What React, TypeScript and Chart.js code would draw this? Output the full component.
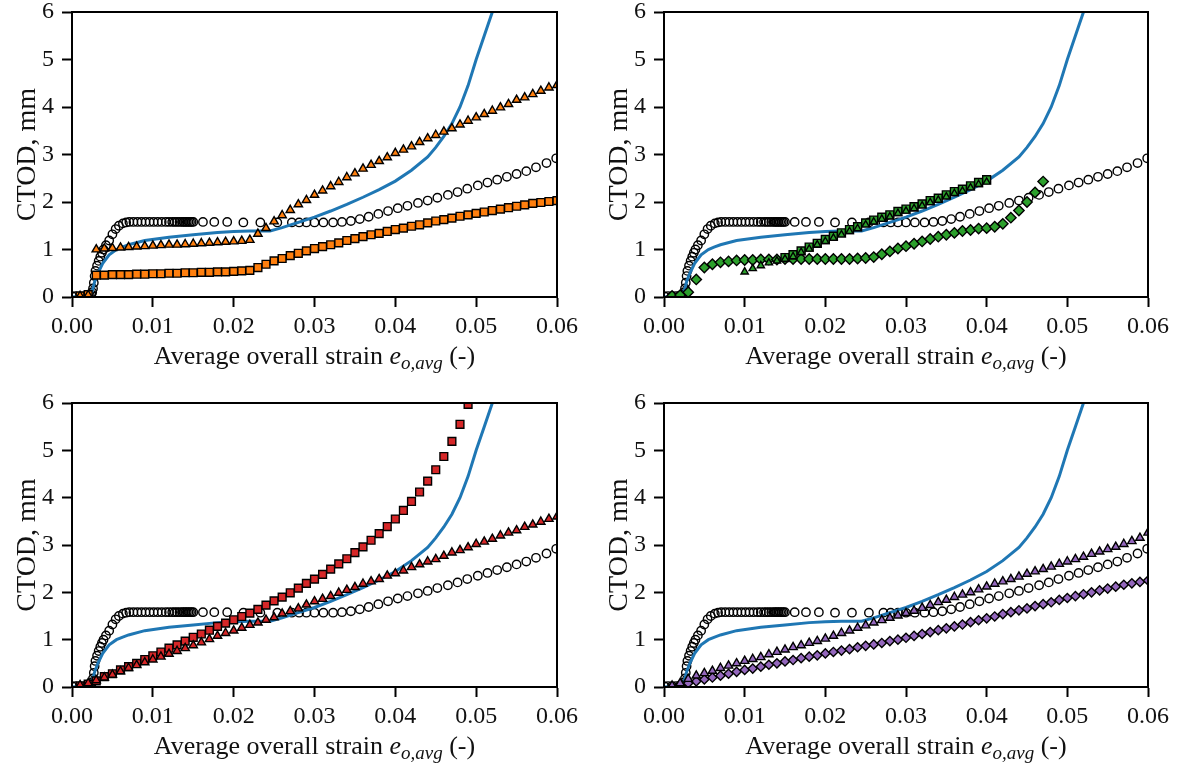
import React, { useEffect, useRef } from 'react';
import { Chart, registerables } from 'chart.js';

Chart.register(...registerables);

const SERIF = "'Liberation Serif', 'DejaVu Serif', serif";

// ---------- axis ticks ----------
const xTickValues = [0.0, 0.01, 0.02, 0.03, 0.04, 0.05, 0.06];
const yTickValues = [0, 1, 2, 3, 4, 5, 6];

// ---------- shared: experiment (open circles) ----------
const expStrain = [
  0, 0.0005, 0.001, 0.0015, 0.002, 0.0022, 0.0024, 0.0025, 0.0026, 0.0027, 0.0028, 0.0029,
  0.0031, 0.0033, 0.0035, 0.0037, 0.0039, 0.0042, 0.0046, 0.005, 0.0054, 0.0058, 0.0063,
  0.0067, 0.0071, 0.0076, 0.0081, 0.0086, 0.0091, 0.0096, 0.0101, 0.0106, 0.0111, 0.0116,
  0.012, 0.0124, 0.0127, 0.013, 0.0133, 0.0136, 0.0138, 0.014, 0.0142, 0.0144, 0.0146,
  0.0148, 0.015, 0.0162, 0.0176, 0.0192, 0.0212, 0.0233, 0.0254, 0.0272, 0.0281, 0.029,
  0.03, 0.0311, 0.0323, 0.0334, 0.0345, 0.0356, 0.0367, 0.0379, 0.0391, 0.0403, 0.0415,
  0.0428, 0.044, 0.0452, 0.0465, 0.0477, 0.0489, 0.0502, 0.0514, 0.0526, 0.0538, 0.055,
  0.0562, 0.0574, 0.0587, 0.0599,
];
const expCTOD = [
  0.02, 0.02, 0.02, 0.02, 0.03, 0.04, 0.06, 0.1, 0.18, 0.3, 0.44, 0.55,
  0.66, 0.76, 0.85, 0.93, 1.0, 1.09, 1.19, 1.32, 1.43, 1.5, 1.55,
  1.57, 1.58, 1.58, 1.58, 1.58, 1.58, 1.58, 1.58, 1.58, 1.58, 1.58,
  1.58, 1.58, 1.58, 1.58, 1.58, 1.58, 1.58, 1.58, 1.58, 1.58, 1.58,
  1.58, 1.58, 1.58, 1.58, 1.58, 1.57, 1.57, 1.57, 1.57, 1.57, 1.57,
  1.57, 1.57, 1.57, 1.58, 1.6, 1.64, 1.69, 1.75, 1.81, 1.87, 1.92,
  1.98, 2.03, 2.09, 2.15, 2.21, 2.28, 2.35, 2.41, 2.47, 2.53, 2.59,
  2.65, 2.73, 2.82, 2.92,
];

// ---------- shared: simulation (blue line) ----------
const simStrain = [
  0, 0.001, 0.002, 0.0025, 0.0028, 0.0032, 0.0038, 0.0046, 0.0055, 0.0062, 0.007, 0.009,
  0.012, 0.015, 0.018, 0.02, 0.022, 0.0245, 0.026, 0.028, 0.03, 0.032, 0.034, 0.036, 0.038,
  0.04, 0.042, 0.044, 0.045, 0.046, 0.047, 0.048, 0.049, 0.05, 0.051, 0.052, 0.0525,
];
const simCTOD = [
  0, 0.01, 0.03, 0.12, 0.32, 0.5, 0.71, 0.89, 1.0, 1.05, 1.1, 1.19,
  1.26, 1.31, 1.36, 1.38, 1.39, 1.39, 1.46, 1.57, 1.68, 1.81, 1.95, 2.1, 2.26,
  2.44, 2.67, 2.95, 3.15, 3.38, 3.65, 4.0, 4.45, 5.0, 5.5, 6.0, 6.3,
];

// ---------- model strain grid (0.001 ... 0.060) ----------
const gridStrain = [
  0.001, 0.002, 0.003, 0.004, 0.005, 0.006, 0.007, 0.008, 0.009, 0.01,
  0.011, 0.012, 0.013, 0.014, 0.015, 0.016, 0.017, 0.018, 0.019, 0.02,
  0.021, 0.022, 0.023, 0.024, 0.025, 0.026, 0.027, 0.028, 0.029, 0.03,
  0.031, 0.032, 0.033, 0.034, 0.035, 0.036, 0.037, 0.038, 0.039, 0.04,
  0.041, 0.042, 0.043, 0.044, 0.045, 0.046, 0.047, 0.048, 0.049, 0.05,
  0.051, 0.052, 0.053, 0.054, 0.055, 0.056, 0.057, 0.058, 0.059, 0.06,
];

// panel (a) orange
const orangeTriCTOD = [
  0.02, 0.04, 1.0, 1.02, 1.03, 1.04, 1.05, 1.06, 1.07, 1.08,
  1.09, 1.1, 1.1, 1.11, 1.12, 1.13, 1.14, 1.15, 1.16, 1.17,
  1.18, 1.2, 1.33, 1.45, 1.59, 1.72, 1.83, 1.95, 2.04, 2.15,
  2.24, 2.33, 2.42, 2.52, 2.6, 2.7, 2.78, 2.86, 2.94, 3.03,
  3.1, 3.17, 3.26, 3.34, 3.41, 3.48, 3.55, 3.63, 3.71, 3.78,
  3.85, 3.92, 3.99, 4.06, 4.15, 4.2, 4.27, 4.34, 4.41, 4.46,
];
const orangeSqCTOD = [
  0.02, 0.05, 0.46, 0.46, 0.47, 0.47, 0.47, 0.48, 0.48, 0.49,
  0.49, 0.5, 0.5, 0.51, 0.51, 0.52, 0.52, 0.53, 0.53, 0.54,
  0.55, 0.56, 0.62, 0.69, 0.76, 0.81, 0.87, 0.92, 0.97, 1.02,
  1.06, 1.1, 1.14, 1.19, 1.23, 1.27, 1.31, 1.34, 1.38, 1.42,
  1.45, 1.49, 1.52, 1.56, 1.6, 1.63, 1.66, 1.7, 1.73, 1.76,
  1.79, 1.82, 1.85, 1.88, 1.91, 1.94, 1.97, 1.99, 2.01, 2.03,
];

// panel (b) green
const greenTriCTOD = [
  null, null, null, null, null, null, null, null, null, 0.53,
  0.6, 0.66, 0.72, 0.76, 0.8, 0.85, 0.94, 1.01, 1.1, 1.17,
  1.24, 1.31, 1.38, 1.44, 1.52, 1.58, 1.64, 1.69, 1.76, 1.81,
  1.86, 1.92, 1.99, 2.04, 2.11, 2.18, 2.23, 2.3, 2.37, 2.42,
  null, null, null, null, null, null, null, null, null, null,
  null, null, null, null, null, null, null, null, null, null,
];
const greenSqCTOD = [
  null, null, null, null, null, null, null, null, null, null,
  null, null, null, null, 0.83, 0.89, 0.97, 1.05, 1.13, 1.21,
  1.28, 1.35, 1.42, 1.48, 1.56, 1.62, 1.68, 1.73, 1.8, 1.85,
  1.9, 1.96, 2.03, 2.08, 2.15, 2.22, 2.27, 2.34, 2.41, 2.47,
  null, null, null, null, null, null, null, null, null, null,
  null, null, null, null, null, null, null, null, null, null,
];
const greenDiaCTOD = [
  0.02, 0.04, 0.1, 0.37, 0.62, 0.69, 0.73, 0.75, 0.77, 0.78,
  0.78, 0.79, 0.79, 0.79, 0.8, 0.8, 0.8, 0.8, 0.8, 0.8,
  0.8, 0.8, 0.8, 0.81, 0.82, 0.84, 0.9, 0.96, 1.02, 1.07,
  1.12, 1.17, 1.22, 1.27, 1.31, 1.35, 1.39, 1.41, 1.44, 1.45,
  1.48, 1.54, 1.67, 1.82, 2.0, 2.2, 2.43, null, null, null,
  null, null, null, null, null, null, null, null, null, null,
];

// panel (c) red
const redSqCTOD = [
  0.02, 0.06, 0.13, 0.22, 0.28, 0.36, 0.43, 0.5, 0.58, 0.66,
  0.74, 0.82, 0.89, 0.97, 1.05, 1.12, 1.2, 1.28, 1.35, 1.42,
  1.49, 1.56, 1.64, 1.73, 1.82, 1.9, 1.99, 2.09, 2.19, 2.28,
  2.38, 2.49, 2.6, 2.71, 2.84, 2.96, 3.1, 3.24, 3.39, 3.55,
  3.73, 3.92, 4.12, 4.35, 4.59, 4.87, 5.19, 5.55, 5.97, null,
  null, null, null, null, null, null, null, null, null, null,
];
const redTriCTOD = [
  0.04, 0.08, 0.14, 0.2, 0.26, 0.33, 0.4, 0.46, 0.52, 0.58,
  0.64, 0.7, 0.76, 0.82, 0.88, 0.94, 1.01, 1.08, 1.14, 1.19,
  1.25, 1.31, 1.36, 1.42, 1.47, 1.55, 1.6, 1.66, 1.74, 1.81,
  1.86, 1.92, 1.99, 2.05, 2.11, 2.18, 2.23, 2.28, 2.35, 2.4,
  2.46, 2.53, 2.59, 2.65, 2.7, 2.77, 2.84, 2.89, 2.95, 3.02,
  3.07, 3.13, 3.2, 3.26, 3.31, 3.38, 3.43, 3.49, 3.55, 3.6,
];

// panel (d) purple
const purpleTriCTOD = [
  0.03, 0.08, 0.17, 0.24, 0.29, 0.34, 0.4, 0.45, 0.5, 0.55,
  0.59, 0.63, 0.69, 0.74, 0.79, 0.84, 0.88, 0.93, 0.97, 1.02,
  1.08, 1.14, 1.19, 1.25, 1.3, 1.36, 1.41, 1.46, 1.51, 1.56,
  1.61, 1.67, 1.73, 1.79, 1.84, 1.9, 1.95, 2.0, 2.06, 2.12,
  2.18, 2.23, 2.28, 2.33, 2.39, 2.44, 2.49, 2.54, 2.6, 2.65,
  2.7, 2.75, 2.81, 2.86, 2.91, 2.96, 3.02, 3.08, 3.15, 3.26,
];
const purpleDiaCTOD = [
  0.01, 0.05, 0.08, 0.12, 0.16, 0.2, 0.24, 0.28, 0.32, 0.36,
  0.39, 0.43, 0.47, 0.5, 0.54, 0.57, 0.61, 0.64, 0.67, 0.71,
  0.74, 0.77, 0.8, 0.84, 0.87, 0.9, 0.93, 0.97, 1.0, 1.04,
  1.08, 1.12, 1.16, 1.2, 1.24, 1.28, 1.32, 1.37, 1.41, 1.45,
  1.49, 1.54, 1.58, 1.62, 1.66, 1.71, 1.75, 1.79, 1.84, 1.88,
  1.92, 1.96, 2.0, 2.04, 2.08, 2.12, 2.16, 2.19, 2.22, 2.25,
];

// ---------- helpers ----------
const toPoints = (xs: number[], ys: (number | null)[]) =>
  xs.map((x, i) => ({ x, y: ys[i] })).filter((p) => p.y !== null && p.y !== undefined);

const BLUE = '#1f77b4';

const markerSet = (ys: (number | null)[], style: string, color: string, radius: number, order: number) => ({
  data: toPoints(gridStrain, ys),
  showLine: false,
  pointStyle: style,
  pointRadius: radius,
  pointBackgroundColor: color,
  pointBorderColor: '#000',
  pointBorderWidth: 1.4,
  order,
});

const commonSets = () => [
  {
    data: toPoints(simStrain, simCTOD),
    showLine: true,
    borderColor: BLUE,
    borderWidth: 3,
    pointRadius: 0,
    tension: 0,
    fill: false,
    order: 5,
  },
  {
    data: toPoints(expStrain, expCTOD),
    showLine: false,
    pointStyle: 'circle',
    pointRadius: 4.2,
    pointBackgroundColor: 'rgba(255,255,255,0)',
    pointBorderColor: '#000',
    pointBorderWidth: 1.4,
    order: 6,
  },
];

const panels = [
  {
    left: 0, top: 0, width: 590, height: 383, yW: 72, padR: 33, padT: 12, xH: 86,
    sets: () => [
      markerSet(orangeTriCTOD, 'triangle', '#ff7f0e', 4.8, 1),
      markerSet(orangeSqCTOD, 'rect', '#ff7f0e', 5.5, 2),
    ],
  },
  {
    left: 590, top: 0, width: 591, height: 383, yW: 74, padR: 33, padT: 12, xH: 86,
    sets: () => [
      markerSet(greenTriCTOD, 'triangle', '#2ca02c', 4.2, 1),
      markerSet(greenSqCTOD, 'rect', '#2ca02c', 5.6, 2),
      markerSet(greenDiaCTOD, 'rectRot', '#2ca02c', 5.2, 3),
    ],
  },
  {
    left: 0, top: 390, width: 590, height: 377, yW: 72, padR: 33, padT: 13, xH: 80,
    sets: () => [
      markerSet(redTriCTOD, 'triangle', '#d62728', 4.8, 1),
      markerSet(redSqCTOD, 'rect', '#d62728', 5.5, 2),
    ],
  },
  {
    left: 590, top: 390, width: 591, height: 377, yW: 74, padR: 33, padT: 13, xH: 80,
    sets: () => [
      markerSet(purpleTriCTOD, 'triangle', '#9467bd', 4.8, 1),
      markerSet(purpleDiaCTOD, 'rectRot', '#9467bd', 4.6, 2),
    ],
  },
];

const TEXT = '#111';
const TICK_SIZE = 24;
const XTITLE_SIZE = 26;
const YTITLE_SIZE = 28;

const decorPlugin = {
  id: 'decor',
  afterDraw(chart: any) {
    const { ctx, chartArea } = chart;
    const { left, right, top, bottom } = chartArea;
    ctx.save();
    // full frame
    ctx.strokeStyle = '#000';
    ctx.lineWidth = 2;
    ctx.strokeRect(left, top, right - left, bottom - top);

    // x title with math subscript
    const size = XTITLE_SIZE;
    const parts = [
      { t: 'Average overall strain ', f: `${size}px ${SERIF}`, dy: 0 },
      { t: 'e', f: `italic ${size}px ${SERIF}`, dy: 0 },
      { t: 'o,avg', f: `italic ${Math.round(size * 0.72)}px ${SERIF}`, dy: 5 },
      { t: ' (-)', f: `${size}px ${SERIF}`, dy: 0 },
    ];
    let total = 0;
    const widths = parts.map((p) => {
      ctx.font = p.f;
      const w = ctx.measureText(p.t).width;
      total += w;
      return w;
    });
    let x = (left + right) / 2 - total / 2;
    const baseY = bottom + 67;
    ctx.fillStyle = TEXT;
    ctx.textBaseline = 'alphabetic';
    ctx.textAlign = 'left';
    parts.forEach((p, i) => {
      ctx.font = p.f;
      ctx.fillText(p.t, x, baseY + p.dy);
      x += widths[i];
    });

    // y title
    ctx.translate(left - 44, (top + bottom) / 2);
    ctx.rotate(-Math.PI / 2);
    ctx.font = `${YTITLE_SIZE}px ${SERIF}`;
    ctx.textAlign = 'center';
    ctx.textBaseline = 'middle';
    ctx.fillText('CTOD, mm', 0, 0);
    ctx.restore();
  },
};

function Panel({ spec }: { spec: any }) {
  const ref = useRef<HTMLCanvasElement | null>(null);
  useEffect(() => {
    if (!ref.current) return;
    const chart = new Chart(ref.current, {
      type: 'scatter',
      data: { datasets: [...spec.sets(), ...commonSets()] as any },
      options: {
        animation: false,
        responsive: false,
        devicePixelRatio: 1,
        events: [],
        layout: { padding: { left: 0, right: spec.padR, top: spec.padT, bottom: 0 } },
        plugins: { legend: { display: false }, tooltip: { enabled: false }, title: { display: false } },
        scales: {
          x: {
            type: 'linear',
            min: 0,
            max: 0.06,
            afterFit: (s: any) => {
              s.height = spec.xH;
              s.paddingLeft = 0;
              s.paddingRight = 0;
            },
            afterBuildTicks: (s: any) => { s.ticks = xTickValues.map((v) => ({ value: v })); },
            ticks: {
              padding: 5,
              color: TEXT,
              font: { family: SERIF, size: TICK_SIZE },
              maxRotation: 0,
              autoSkip: false,
              callback: (v: any) => Number(v).toFixed(2),
            },
            grid: { drawOnChartArea: false, drawTicks: true, tickLength: 10, tickWidth: 2, tickColor: '#000' },
            border: { display: true, color: '#000', width: 2 },
          },
          y: {
            type: 'linear',
            min: 0,
            max: 6,
            afterFit: (s: any) => {
              s.width = spec.yW;
              s.paddingTop = 0;
              s.paddingBottom = 0;
            },
            afterBuildTicks: (s: any) => { s.ticks = yTickValues.map((v) => ({ value: v })); },
            ticks: {
              padding: 8,
              color: TEXT,
              font: { family: SERIF, size: TICK_SIZE },
              autoSkip: false,
              callback: (v: any) => String(v),
            },
            grid: { drawOnChartArea: false, drawTicks: true, tickLength: 10, tickWidth: 2, tickColor: '#000' },
            border: { display: true, color: '#000', width: 2 },
          },
        },
      },
      plugins: [decorPlugin],
    });
    return () => chart.destroy();
  }, [spec]);
  return (
    <canvas
      ref={ref}
      width={spec.width}
      height={spec.height}
      style={{ position: 'absolute', left: spec.left, top: spec.top, width: spec.width, height: spec.height }}
    />
  );
}

export default function App() {
  return (
    <div style={{ position: 'absolute', left: 0, top: 0, width: 1181, height: 767, background: '#fff', overflow: 'hidden' }}>
      {panels.map((p, i) => (
        <Panel key={i} spec={p} />
      ))}
    </div>
  );
}
